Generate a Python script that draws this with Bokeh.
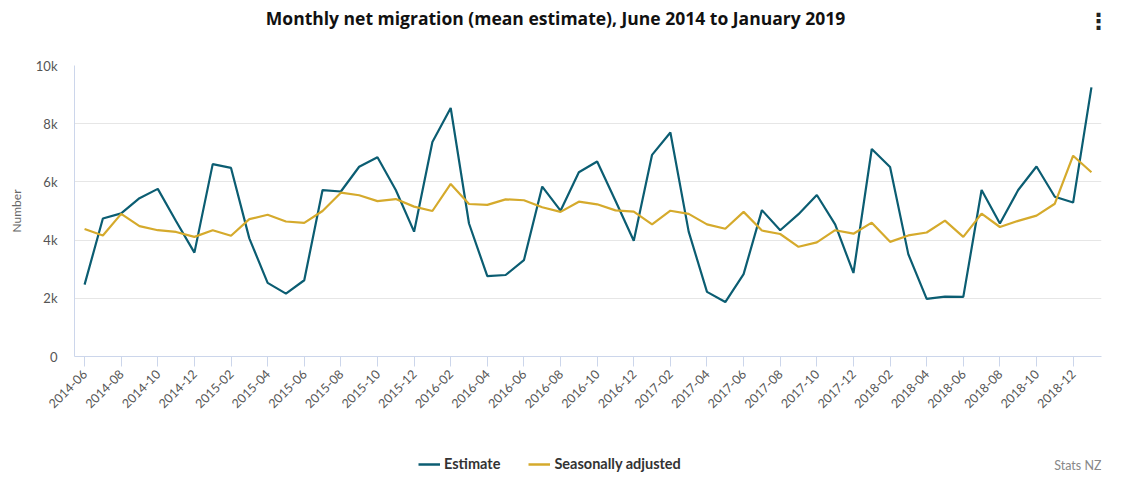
import math
from bokeh.plotting import figure
from bokeh.layouts import column
from bokeh.models import (FixedTicker, Range1d, Legend, LegendItem, Label)
from bokeh.embed import file_html
from bokeh.resources import INLINE

months = ["2014-06", "2014-07", "2014-08", "2014-09", "2014-10", "2014-11", "2014-12",
          "2015-01", "2015-02", "2015-03", "2015-04", "2015-05", "2015-06", "2015-07",
          "2015-08", "2015-09", "2015-10", "2015-11", "2015-12", "2016-01", "2016-02",
          "2016-03", "2016-04", "2016-05", "2016-06", "2016-07", "2016-08", "2016-09",
          "2016-10", "2016-11", "2016-12", "2017-01", "2017-02", "2017-03", "2017-04",
          "2017-05", "2017-06", "2017-07", "2017-08", "2017-09", "2017-10", "2017-11",
          "2017-12", "2018-01", "2018-02", "2018-03", "2018-04", "2018-05", "2018-06",
          "2018-07", "2018-08", "2018-09", "2018-10", "2018-11", "2018-12", "2019-01"]

estimate = [2470, 4740, 4920, 5440, 5760, 4650, 3570, 6610, 6480, 4060, 2530, 2160,
            2620, 5720, 5670, 6520, 6850, 5720, 4290, 7370, 8540, 4570, 2760, 2800,
            3310, 5840, 5010, 6330, 6700, 5350, 3980, 6930, 7700, 4290, 2220, 1870,
            2830, 5030, 4340, 4890, 5550, 4540, 2870, 7130, 6510, 3510, 1980, 2060,
            2050, 5720, 4570, 5720, 6530, 5490, 5290, 9250]

seasonally_adjusted = [4380, 4160, 4900, 4480, 4340, 4280, 4110, 4340, 4150, 4720,
                       4870, 4640, 4590, 5000, 5630, 5540, 5340, 5410, 5150, 5000,
                       5930, 5240, 5210, 5400, 5370, 5130, 4970, 5320, 5230, 5020,
                       4980, 4540, 5010, 4900, 4540, 4390, 4970, 4330, 4210, 3770,
                       3920, 4340, 4220, 4600, 3940, 4160, 4260, 4670, 4110, 4910,
                       4450, 4660, 4840, 5250, 6900, 6330]

y_ticks = [0, 2000, 4000, 6000, 8000, 10000]
y_tick_labels = ["0", "2k", "4k", "6k", "8k", "10k"]

title_text = "Monthly net migration (mean estimate), June 2014 to January 2019"
credit_text = "Stats NZ"
series_names = ["Estimate", "Seasonally adjusted"]
colors = ["#0b5d72", "#d5aa2c"]

W = 1113
HH, HM, HL = 40, 400, 44          # header / main / legend heights
FL, FR = 74, 1101                  # frame left / right (canvas px)
FT, FB = 65, 356                   # frame top / bottom (canvas px)
x = list(range(len(months)))


def blank(height):
    f = figure(width=W, height=height, output_backend="svg", toolbar_location=None,
               x_range=Range1d(0, 1), y_range=Range1d(0, 1),
               min_border_left=FL, min_border_right=W - FR,
               min_border_top=0, min_border_bottom=0)
    f.axis.visible = False
    f.grid.grid_line_color = None
    f.outline_line_color = None
    f.border_fill_color = "white"
    f.background_fill_color = "white"
    return f


# ---- header: title + menu icon
hd = blank(HH)
hd.add_layout(Label(x=555 - FL, y=HH - 17, x_units="screen", y_units="screen",
                    text=title_text, text_align="center", text_baseline="middle",
                    text_font="Open Sans", text_font_style="bold",
                    text_font_size="17.5px", text_color="#111111"))
hd.add_layout(Label(x=1098 - FL, y=HH - 21, x_units="screen", y_units="screen",
                    text="\u22ee", text_align="center", text_baseline="middle",
                    text_font="DejaVu Sans", text_font_style="bold",
                    text_font_size="22px", text_color="#222222"))

# ---- main chart
p = figure(width=W, height=HM, output_backend="svg", toolbar_location=None,
           x_range=Range1d(-0.55, len(months) - 1 + 0.55),
           y_range=Range1d(0, 10000),
           min_border_left=FL, min_border_right=W - FR, min_border_top=FT - HH,
           min_border_bottom=HH + HM - FB)
p.outline_line_color = None
p.background_fill_color = "white"
p.border_fill_color = "white"

p.line(x, estimate, line_color=colors[0], line_width=2.2)
p.line(x, seasonally_adjusted, line_color=colors[1], line_width=2.2)

xt = x[::2]
p.xaxis.ticker = FixedTicker(ticks=xt)
p.xaxis.major_label_overrides = {i: months[i] for i in xt}
p.xaxis.major_label_orientation = math.pi / 4
p.xaxis.axis_line_color = "#ccd6eb"
p.xaxis.major_tick_line_color = "#ccd6eb"
p.xaxis.major_tick_out = 10
p.xaxis.major_tick_in = 0
p.xaxis.minor_tick_line_color = None
p.xaxis.major_label_text_font = "Lato"
p.xaxis.major_label_text_font_size = "12.5px"
p.xaxis.major_label_text_color = "#555555"
p.xaxis.major_label_standoff = 5
p.xgrid.grid_line_color = None

p.yaxis.ticker = FixedTicker(ticks=y_ticks)
p.yaxis.major_label_overrides = {v: l for v, l in zip(y_ticks, y_tick_labels)}
p.yaxis.axis_line_color = "#ccd6eb"
p.yaxis.major_tick_line_color = None
p.yaxis.minor_tick_line_color = None
p.yaxis.major_tick_out = 0
p.yaxis.major_tick_in = 0
p.yaxis.major_label_standoff = 17
p.yaxis.major_label_text_font = "Lato"
p.yaxis.major_label_text_font_size = "13px"
p.yaxis.major_label_text_color = "#555555"
p.yaxis.axis_label = "Number"
p.yaxis.axis_label_text_font = "Lato"
p.yaxis.axis_label_text_font_style = "normal"
p.yaxis.axis_label_text_font_size = "12px"
p.yaxis.axis_label_text_color = "#666666"
p.yaxis.axis_label_standoff = 9
p.ygrid.grid_line_color = "#e6e6e6"
p.ygrid.grid_line_width = 1

# ---- legend row + credit
lg = blank(HL)
d1 = lg.line([-5, -4], [-5, -4], line_color=colors[0], line_width=2.5)
d2 = lg.line([-5, -4], [-5, -4], line_color=colors[1], line_width=2.5)
legend = Legend(items=[LegendItem(label=series_names[0], renderers=[d1]),
                       LegendItem(label=series_names[1], renderers=[d2])],
                orientation="horizontal", location=(418 - FL, HL - 24 - 8),
                border_line_color=None, background_fill_alpha=0,
                padding=0, margin=0, spacing=28, label_standoff=4,
                glyph_width=22, glyph_height=16,
                label_text_font="Lato", label_text_font_style="bold",
                label_text_font_size="14.5px", label_text_color="#333333")
lg.add_layout(legend, "center")
lg.add_layout(Label(x=FR - FL, y=HL - 25, x_units="screen", y_units="screen",
                    text=credit_text, text_align="right", text_baseline="middle",
                    text_font="Lato", text_font_size="12.5px", text_color="#888888"))

layout = column(hd, p, lg, spacing=0)
open("out.html", "w").write(file_html(layout, INLINE))
